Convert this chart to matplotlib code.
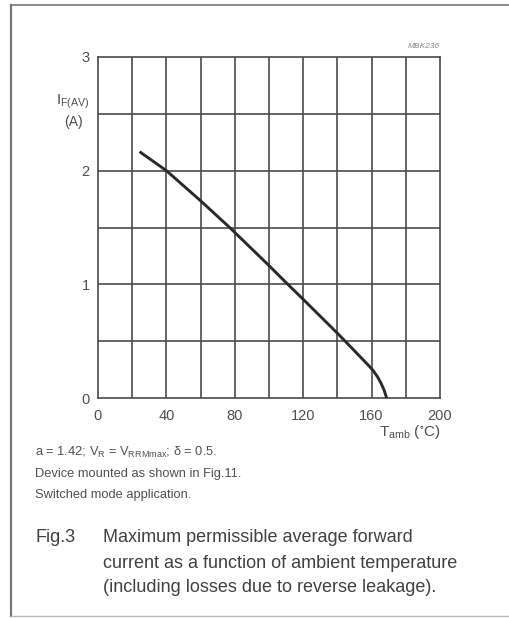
import matplotlib
matplotlib.use('Agg')
import matplotlib.pyplot as plt
from matplotlib.lines import Line2D

plt.rcParams['font.family'] = ['Liberation Sans', 'DejaVu Sans']
plt.rcParams['mathtext.default'] = 'regular'

# curve
t_amb = [25, 40, 60, 77, 100, 110, 120, 140, 150, 158, 161, 163.5, 165.5, 167.3, 168.8]
i_fav = [2.16, 2.0, 1.735, 1.5, 1.165, 1.015, 0.868, 0.57, 0.415, 0.29, 0.24, 0.185, 0.13, 0.07, 0.0]

x_ticks = [0, 40, 80, 120, 160, 200]
y_ticks = [0, 1, 2, 3]

W, H = 510, 618
fig = plt.figure(figsize=(W / 100, H / 100), dpi=100)

def px(x, y):
    return x / W, 1 - y / H

# outer frame
fig.add_artist(Line2D([11 / W, 11 / W], [1 - 5 / H, 1 - 616 / H], color='#777777', lw=1.6))
fig.add_artist(Line2D([11 / W, 1.0], [1 - 5 / H, 1 - 5 / H], color='#777777', lw=1.2))
fig.add_artist(Line2D([11 / W, 1.0], [1 - 616 / H, 1 - 616 / H], color='#bbbbbb', lw=1.0))

l, b = px(98, 398)
ax = fig.add_axes([l, b, 342 / W, 341 / H])
ax.set_xlim(0, 200)
ax.set_ylim(0, 3)

# grid
for gx in range(20, 200, 20):
    ax.axvline(gx, color='#4a4a4a', lw=1.2, zorder=1)
for gy in [0.5, 1.0, 1.5, 2.0, 2.5]:
    ax.axhline(gy, color='#4a4a4a', lw=1.2, zorder=1)
for s in ax.spines.values():
    s.set_color('#4a4a4a')
    s.set_linewidth(1.2)

ax.plot(t_amb, i_fav, color='#2a2a2a', lw=2.1, zorder=3, solid_joinstyle='round')

ax.set_xticks(x_ticks)
ax.set_yticks(y_ticks)
ax.tick_params(length=0, labelsize=10.5, colors='#505050', pad=6)
ax.tick_params(axis='x', pad=8)

fig.text(*px(73, 102), 'I$_{F(AV)}$', ha='center', va='center', fontsize=11, color='#505050')
fig.text(*px(73, 122), '(A)', ha='center', va='center', fontsize=10, color='#505050')
fig.text(*px(440, 432), 'T$_{amb}$ ($^{\\circ}$C)', ha='right', va='center', fontsize=11, color='#505050')
fig.text(*px(440, 47), 'MBK236', ha='right', va='center', fontsize=6, style='italic', color='#888888')

notes = ['a = 1.42; V$_{R}$ = V$_{RRMmax}$; \u03b4 = 0.5.',
         'Device mounted as shown in Fig.11.',
         'Switched mode application.']
for k, line in enumerate(notes):
    fig.text(*px(35, 452 + 21.5 * k), line, ha='left', va='center', fontsize=9.3, color='#505050')

fig.text(*px(36, 538), 'Fig.3', ha='left', va='center', fontsize=13, color='#404040')
caption = ['Maximum permissible average forward',
           'current as a function of ambient temperature',
           '(including losses due to reverse leakage).']
for k, line in enumerate(caption):
    fig.text(*px(103, 538 + 25 * k), line, ha='left', va='center', fontsize=13, color='#404040')

fig.savefig('out.png', dpi=100, facecolor='white')
